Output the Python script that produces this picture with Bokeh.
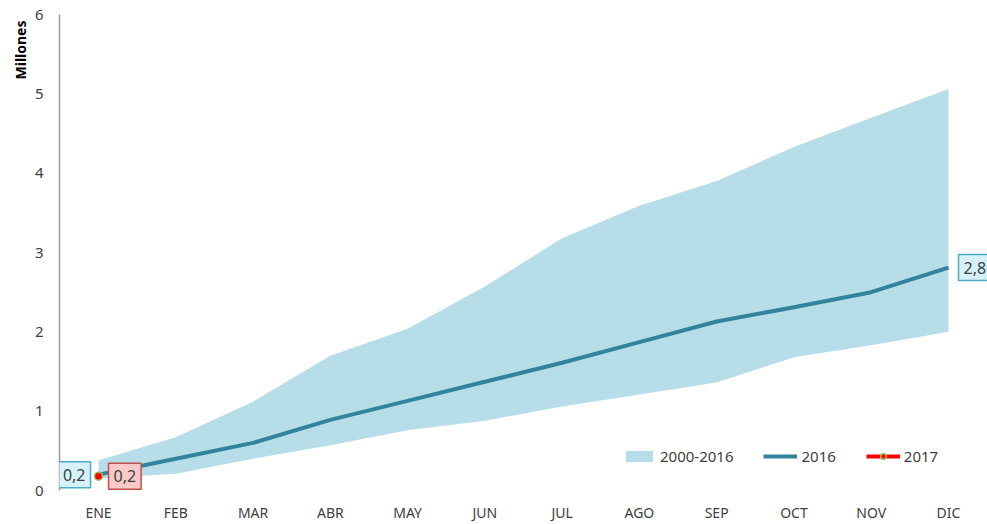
import math
from bokeh.plotting import figure
from bokeh.models import Range1d, FixedTicker, Label, Legend, LegendItem, Title
from bokeh.embed import file_html
from bokeh.resources import INLINE

months = ["ENE", "FEB", "MAR", "ABR", "MAY", "JUN", "JUL", "AGO", "SEP", "OCT", "NOV", "DIC"]
band_low = [0.15, 0.21, 0.40, 0.57, 0.76, 0.88, 1.06, 1.21, 1.36, 1.68, 1.83, 2.00]
band_high = [0.38, 0.67, 1.12, 1.70, 2.04, 2.57, 3.18, 3.59, 3.90, 4.33, 4.70, 5.06]
s2016 = [0.20, 0.40, 0.60, 0.89, 1.13, 1.37, 1.61, 1.87, 2.13, 2.31, 2.50, 2.81]
s2017 = [0.18]
y_ticks = [0, 1, 2, 3, 4, 5, 6]

FONT = "Noto Sans"
xs = list(range(len(months)))

p = figure(width=987, height=524, output_backend="svg", toolbar_location=None,
           x_range=Range1d(-0.505, 11.505), y_range=Range1d(0, 6),
           min_border_left=59, min_border_right=0, min_border_top=14, min_border_bottom=34)
p.outline_line_color = None
p.xgrid.visible = False
p.ygrid.visible = False
p.background_fill_color = "white"

r_band = p.varea(x=xs, y1=band_low, y2=band_high, fill_color="#b7dde8")
r_2016 = p.line(x=xs, y=s2016, line_color="#31849b", line_width=4)
r_2017l = p.line(x=xs[:len(s2017)], y=s2017, line_color="#ff0000", line_width=4)
r_2017p = p.scatter(x=xs[:len(s2017)], y=s2017, size=8, fill_color="#ff0000",
                    line_color="#9bbb59", line_width=1.5)

# axes
p.xaxis.ticker = FixedTicker(ticks=xs)
p.xaxis.major_label_overrides = {i: m for i, m in enumerate(months)}
p.xaxis.axis_line_color = None
p.xaxis.major_tick_line_color = None
p.xaxis.major_tick_out = 0
p.xaxis.major_tick_in = 0
p.xaxis.minor_tick_line_color = None
p.xaxis.major_label_standoff = 12
p.xaxis.major_label_text_font = FONT
p.xaxis.major_label_text_font_size = "14px"
p.xaxis.major_label_text_color = "#404040"

p.yaxis.ticker = FixedTicker(ticks=y_ticks)
p.yaxis.axis_line_color = "#9a9a9a"
p.yaxis.axis_line_width = 1.5
p.yaxis.major_tick_line_color = None
p.yaxis.major_tick_out = 0
p.yaxis.major_tick_in = 0
p.yaxis.minor_tick_line_color = None
p.yaxis.major_label_standoff = 16
p.yaxis.major_label_text_font = FONT
p.yaxis.major_label_text_font_size = "15px"
p.yaxis.major_label_text_color = "#404040"

# y title
ytitle = Title(text="Millones", align="right", text_font=FONT, text_font_size="14px",
               text_font_style="bold", text_color="black", offset=6, standoff=3)
p.add_layout(ytitle, "left")

def fmt(v):
    return f"{v:.1f}".replace(".", ",")

def box(x, y, text, align, xoff, fill, border):
    p.add_layout(Label(x=x, y=y, text=text, text_align=align, text_baseline="middle",
                       x_offset=xoff, text_font=FONT, text_font_size="16px",
                       text_color="#404040", background_fill_color=fill,
                       border_line_color=border, border_line_width=1.5,
                       padding=(5, 5, 7, 7)))

box(xs[0], s2016[0], fmt(s2016[0]), "right", -8, "#d5f1fa", "#4bacc6")
box(xs[0], s2017[0], fmt(s2017[0]), "left", 10, "#f8c9c8", "#c0504d")
box(xs[-1], s2016[-1], fmt(s2016[-1]), "left", 10, "#d5f1fa", "#4bacc6")

legend = Legend(items=[
    LegendItem(label="2000-2016", renderers=[r_band]),
    LegendItem(label="2016", renderers=[r_2016]),
    LegendItem(label="2017", renderers=[r_2017l, r_2017p]),
], orientation="horizontal", location=(563, 24))
legend.border_line_color = None
legend.background_fill_alpha = 0
legend.glyph_width = 34
legend.glyph_height = 14
legend.spacing = 30
legend.label_standoff = 4
legend.label_text_font = FONT
legend.label_text_font_size = "15px"
legend.label_text_color = "#404040"
legend.padding = 4
p.add_layout(legend)

open("out.html", "w").write(file_html(p, INLINE))
